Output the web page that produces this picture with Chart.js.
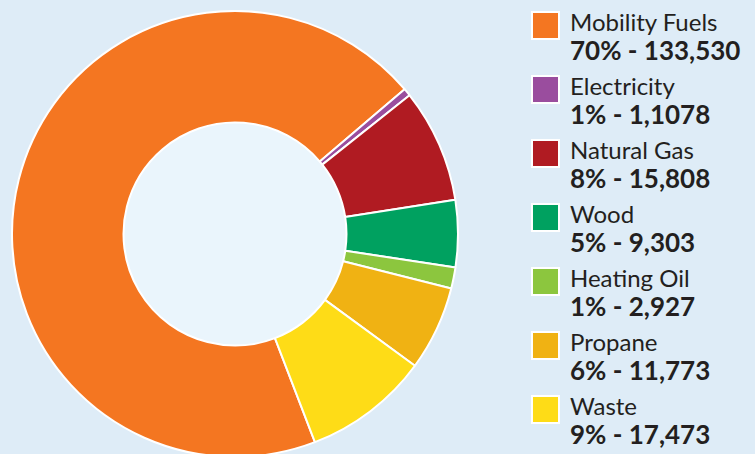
<!DOCTYPE html>
<html>
<head>
<meta charset="utf-8">
<script src="https://cdn.jsdelivr.net/npm/chart.js@4.4.1/dist/chart.umd.min.js"></script>
<style>
  html, body { margin: 0; padding: 0; }
  body { width: 755px; height: 454px; overflow: hidden; background: #deecf7; position: relative; font-family: Lato, "Open Sans", sans-serif; }
  #chartBox { position: absolute; left: 11px; top: 10px; width: 448px; height: 448px; }
  #legend { position: absolute; left: 531px; top: 11px; }
  .item { position: relative; height: 64px; }
  .swatch { position: absolute; left: 0; top: 0; width: 25px; height: 25px; border: 2px solid #fff; }
  .name { position: absolute; left: 39px; top: -4px; font-size: 24px; line-height: 29px; color: #231f20; white-space: nowrap; }
  .val { position: absolute; left: 39px; top: 24px; font-size: 26px; line-height: 31px; font-weight: bold; color: #231f20; white-space: nowrap; }
</style>
</head>
<body>
<div id="chartBox"><canvas id="pie"></canvas></div>
<div id="legend"></div>
<script>
// Data
const labels = ['Mobility Fuels', 'Electricity', 'Natural Gas', 'Wood', 'Heating Oil', 'Propane', 'Waste'];
const values = [133530, 1078, 15808, 9303, 2927, 11773, 17473];
const percentText = ['70%', '1%', '8%', '5%', '1%', '6%', '9%'];
const valueText = ['133,530', '1,1078', '15,808', '9,303', '2,927', '11,773', '17,473'];
const colors = ['#f47621', '#9a4d9e', '#b01b22', '#00a160', '#8cc63e', '#f0b213', '#fedc17'];

// Legend
const legend = document.getElementById('legend');
labels.forEach((name, i) => {
    const item = document.createElement('div');
    item.className = 'item';
    item.innerHTML = `<div class="swatch" style="background:${colors[i]}"></div>` +
        `<div class="name">${name}</div>` +
        `<div class="val">${percentText[i]} - ${valueText[i]}</div>`;
    legend.appendChild(item);
});

// Fill the hole of the doughnut
const centerFill = {
    id: 'centerFill',
    beforeDatasetsDraw(chart) {
        const arc = chart.getDatasetMeta(0).data[0];
        if (!arc) return;
        const ctx = chart.ctx;
        ctx.save();
        ctx.beginPath();
        ctx.arc(arc.x, arc.y, arc.innerRadius, 0, Math.PI * 2);
        ctx.fillStyle = '#eaf5fc';
        ctx.fill();
        ctx.restore();
    }
};

new Chart(document.getElementById('pie').getContext('2d'), {
    type: 'doughnut',
    data: {
        labels: labels,
        datasets: [{
            data: values,
            backgroundColor: colors,
            borderColor: '#ffffff',
            borderWidth: 2
        }]
    },
    options: {
        responsive: true,
        maintainAspectRatio: false,
        animation: false,
        rotation: 159,
        cutout: '50%',
        plugins: {
            legend: { display: false },
            tooltip: { enabled: false }
        }
    },
    plugins: [centerFill]
});
</script>
</body>
</html>
